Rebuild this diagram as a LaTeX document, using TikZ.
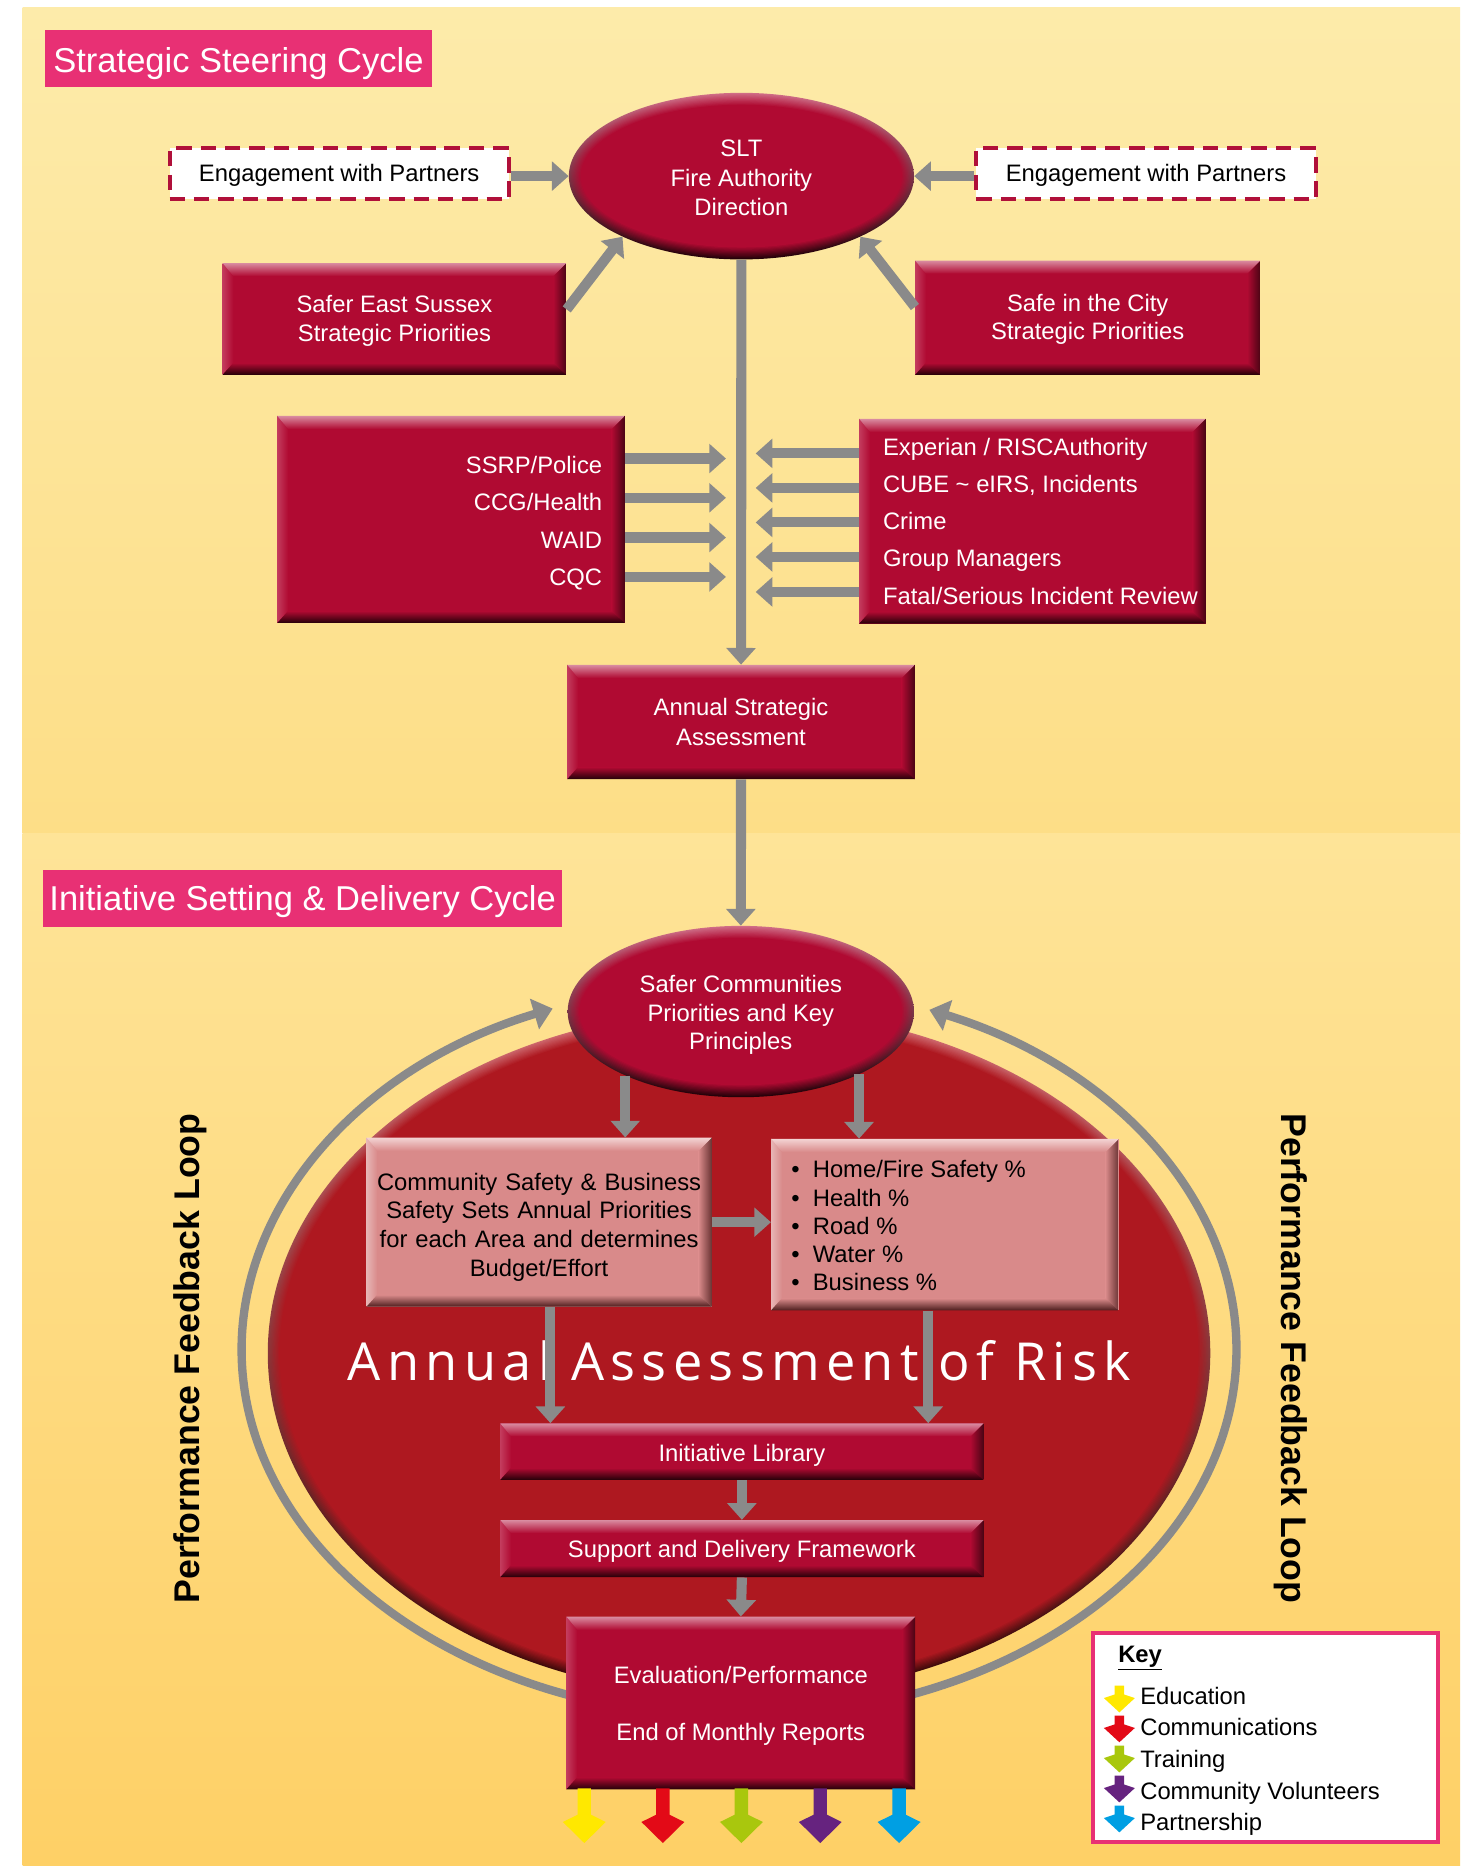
\documentclass[tikz,border=0pt]{standalone}
\usepackage{fontspec}
\setmainfont{Liberation Sans}
\newfontfamily\riskfont[LetterSpace=12]{Open Sans}
\usetikzlibrary{arrows.meta,shapes.geometric,calc}

% palette
\definecolor{bgA}{HTML}{FDEBAA}
\definecolor{bgB}{HTML}{FDDE87}
\definecolor{bgC}{HTML}{FEE498}
\definecolor{bgD}{HTML}{FED066}
\definecolor{crimson}{HTML}{B00A32}
\definecolor{crimsonhi}{HTML}{D98BA0}
\definecolor{crimsonside}{HTML}{C33B5D}
\definecolor{crimsonsh}{HTML}{4A0414}
\definecolor{crimsondeep}{HTML}{240008}
\definecolor{crimsonrim}{HTML}{D06C86}
\definecolor{rose}{HTML}{D98A8A}
\definecolor{rosehi}{HTML}{F3D3D3}
\definecolor{roseside}{HTML}{E7B5B5}
\definecolor{rosesh}{HTML}{6A3434}
\definecolor{rosedeep}{HTML}{4E1E1E}
\definecolor{riskred}{HTML}{AE1820}
\definecolor{riskrim}{HTML}{D46A70}
\definecolor{riskdeep}{HTML}{3A0606}
\definecolor{flowgray}{HTML}{8A8A8A}
\definecolor{titlepink}{HTML}{E83074}
\definecolor{engred}{HTML}{B0103A}
\definecolor{keyyellow}{HTML}{FFE800}
\definecolor{keyred}{HTML}{E30A17}
\definecolor{keygreen}{HTML}{A9C70D}
\definecolor{keypurple}{HTML}{66237F}
\definecolor{keyblue}{HTML}{009FE3}

% ellipse with a soft light rim on top and a dark rim below
\newcommand\rimellipse[6]{%
  \foreach \k in {0,...,10}{%
    \pgfmathtruncatemacro\rimmix{100-10*\k}%
    \shade[top color=#5!\rimmix!#4, bottom color=#6!\rimmix!#4]
      (#1) ellipse [x radius=#2-\k, y radius=#3-\k];
  }}

% kite-headed downward arrows (tip given)
\newcommand\bigkite[2]{\fill[#2] (#1) -- ++(18,-17.7) -- ++(-12.4,-6.1) -- ++(0,-22.2)
  -- ++(-11.2,0) -- ++(0,22.2) -- ++(-12.4,6.1) -- cycle;}
\newcommand\smallkite[2]{\fill[#2] (#1) -- ++(13,-12) -- ++(-9,-3) -- ++(0,-7.4)
  -- ++(-8,0) -- ++(0,7.4) -- ++(-9,3) -- cycle;}

\tikzset{
  every node/.append style={font=\fontsize{20}{24}\selectfont, inner sep=0pt},
  textdrop/.style={execute at begin node={\rule{0pt}{#1pt}}},
  bevel/.style n args={5}{fill=#1, path picture={
    \coordinate (bnw) at (path picture bounding box.north west);
    \coordinate (bse) at (path picture bounding box.south east);
    \coordinate (bne) at (path picture bounding box.north east);
    \coordinate (bsw) at (path picture bounding box.south west);
    \shade[left color=#3, right color=#1] (bnw) -- (bsw) -- ($(bsw)+(9,-10)$) -- ($(bnw)+(9,11)$) -- cycle;
    \shade[left color=#1, right color=#4] (bne) -- (bse) -- ($(bse)+(-11,-10)$) -- ($(bne)+(-11,11)$) -- cycle;
    \shade[top color=#2, bottom color=#1] (bnw) -- (bne) -- ($(bne)+(-11,11)$) -- ($(bnw)+(9,11)$) -- cycle;
    \shade[top color=#1, bottom color=#5] (bsw) -- (bse) -- ($(bse)+(-11,-10)$) -- ($(bsw)+(9,-10)$) -- cycle;
  }},
  crimsonbox/.style={rectangle, bevel={crimson}{crimsonhi}{crimsonside}{crimsonsh}{crimsondeep}, text=white, align=center},
  rosebox/.style={rectangle, bevel={rose}{rosehi}{roseside}{rosesh}{rosedeep}, text=black, align=center},
  whitetext/.style={text=white, align=center},
  titlebox/.style={rectangle, fill=titlepink, text=white, font=\fontsize{29}{34}\selectfont},
  engbox/.style={rectangle, draw=engred, line width=3.4pt, dash pattern=on 13pt off 7.5pt, fill=white,
    minimum width=285, minimum height=43, text=black},
  garrow/.style={draw=flowgray, line width=8.5pt, -{Triangle[width=24pt,length=14pt]}},
  loopring/.style={draw=flowgray, line width=7pt, -{Triangle[width=26pt,length=16pt]}},
  bulletlist/.style={anchor=west, font=\fontsize{20}{23.75}\selectfont},
}

\begin{document}
\begin{tikzpicture}[x=1pt,y=-1pt]
\useasboundingbox (0,0) rectangle (1234,1568);
\fill[white] (0,0) rectangle (1234,1568);
\shade[top color=bgA, bottom color=bgB] (19,6) rectangle (1227,700);
\shade[top color=bgC, bottom color=bgD] (19,700) rectangle (1227,1568);

% section titles
\node[titlebox, textdrop=29, minimum width=325, minimum height=48] (t1) at (200.4,49.3) {Strategic Steering Cycle};
\node[titlebox, textdrop=26, minimum width=435.5, minimum height=48] (t2) at (254.3,755) {Initiative Setting \& Delivery Cycle};

% strategic steering cycle
\node[engbox, textdrop=16.5] (engL) at (285,146) {Engagement with Partners};
\node[engbox, textdrop=16.5] (engR) at (963,146) {Engagement with Partners};
\node[crimsonbox, minimum width=289, minimum height=94] (ses) at (331.5,268) {};
\node[whitetext] (sestext) at ([yshift=-1.5]ses.center) {Safer East Sussex\\Strategic Priorities};
\node[crimsonbox, minimum width=290, minimum height=96] (sic) at (914,267) {};
\node[whitetext] (sictext) at ([yshift=-1.5]sic.center) {Safe in the City\\Strategic Priorities};
\node[crimsonbox, minimum width=292, minimum height=174] (lb) at (379,436.5) {};
\node[text=white, anchor=east, align=right, font=\fontsize{20}{31.3}\selectfont] (lbtext) at ([xshift=-19, yshift=-3]lb.east)
  {SSRP/Police\\CCG/Health\\WAID\\CQC};
\node[crimsonbox, minimum width=291, minimum height=172] (rb) at (867.5,438) {};
\node[text=white, anchor=west, align=left, font=\fontsize{20}{31.2}\selectfont] (rbtext) at ([xshift=20]rb.west)
  {Experian / RISCAuthority\\CUBE \textasciitilde{} eIRS, Incidents\\Crime\\Group Managers\\Fatal/Serious Incident Review};
\node[crimsonbox, minimum width=292, minimum height=96, font=\fontsize{20}{25}\selectfont] (asa) at (622.7,606.7) {Annual Strategic\\Assessment};

\coordinate (sltc) at (623,148);
\rimellipse{sltc}{145}{70}{crimson}{crimsonrim}{crimsondeep}
\node[ellipse, minimum width=290, minimum height=140] (slt) at (sltc) {};
\node[whitetext, font=\fontsize{20}{24.5}\selectfont] (slttext) at ([yshift=-1.5]slt.center) {SLT\\Fire Authority\\Direction};

\draw[garrow] (engL.east |- slt.west) -- (slt.west);
\draw[garrow] (engR.west |- slt.east) -- (slt.east);
\draw[garrow] ([yshift=8]ses.east) -- (slt.207);
\draw[garrow] ([yshift=9]sic.west) -- (slt.333);
\draw[garrow] (slt.south) -- (asa.north);
\foreach \n/\y in {1/385.3, 2/418.3, 3/451.7, 4/484.8}{
  \coordinate (inL\n) at (610,\y);
  \draw[garrow] (lb.east |- inL\n) -- (inL\n);
}
\foreach \n/\y in {1/381, 2/410, 3/439, 4/468, 5/497.4}{
  \coordinate (inR\n) at (635,\y);
  \draw[garrow] (rb.west |- inR\n) -- (inR\n);
}

% performance feedback loop
\coordinate (ringc) at (621,1134);
\draw[loopring] ([shift={(0,309)}]ringc) arc[start angle=90, end angle=248, x radius=418, y radius=309];
\draw[loopring] ([shift={(0,309)}]ringc) arc[start angle=90, end angle=-67.5, x radius=418, y radius=309];

% annual assessment of risk
\coordinate (riskc) at (621,1137);
\rimellipse{riskc}{396}{289}{riskred}{riskrim}{riskdeep}
\node[text=white, anchor=base, font=\riskfont\fontsize{44}{50}\selectfont] (risktxt) at (621.5,1160) {Annual Assessment of Risk};

\coordinate (scc) at (622.5,850);
\rimellipse{scc}{145.5}{72}{crimson}{crimsonrim}{crimsondeep}
\node[ellipse, minimum width=291, minimum height=144] (sc) at (scc) {};
\node[whitetext] (sctext) at ([yshift=-3]sc.center) {Safer Communities\\Priorities and Key\\Principles};
\draw[garrow] (asa.south) -- (sc.north);

\node[rosebox, textdrop=22.6, minimum width=290, minimum height=142, text width=290] (cs) at (453,1027)
  {Community Safety \& Business\\Safety Sets Annual Priorities\\for each Area and determines\\Budget/Effort};
\node[rosebox, minimum width=292, minimum height=144] (bl) at (794,1029) {};
\node[bulletlist] (bltext) at ([xshift=17, yshift=-3.5]bl.west) {%
  \begin{tabular}{@{}l@{\hspace{11pt}}l@{}}
  •&Home/Fire Safety \%\\
  •&Health \%\\
  •&Road \%\\
  •&Water \%\\
  •&Business \%
  \end{tabular}};

\node[crimsonbox, textdrop=20.6, minimum width=406, minimum height=47.5] (lib) at (623.4,1219.8) {Initiative Library};
\node[crimsonbox, textdrop=18.6, minimum width=406, minimum height=48] (sdf) at (623.4,1301.3) {Support and Delivery Framework};
\node[crimsonbox, minimum width=293, minimum height=145] (eval) at (622.5,1431) {};
\node[whitetext] (evaltext) at ([yshift=-2.5]eval.center) {Evaluation/Performance\\[24.5pt]End of Monthly Reports};

\draw[garrow] (sc.209) -- (sc.209 |- cs.north);
\draw[garrow] (sc.332) -- (sc.332 |- bl.north);
\draw[garrow] (cs.east) -- (cs.east -| bl.west);
\draw[garrow] ([xshift=9.5]cs.south) -- ([xshift=9.5]cs.south |- lib.north);
\draw[garrow] ([xshift=-14]bl.south) -- ([xshift=-14]bl.south |- lib.north);
\draw[garrow] (lib.south) -- (sdf.north);
\draw[garrow] (sdf.south) -- (eval.north);

% delivery channels
\foreach \dx/\c in {-131.5/keyyellow, -65.5/keyred, 0.5/keygreen, 66.8/keypurple, 133/keyblue}{
  \coordinate (chtip) at ([xshift=\dx, yshift=-45]eval.south);
  \bigkite{chtip}{\c}
}

% side labels
\node[rotate=90, font=\bfseries\fontsize{30}{36}\selectfont] (perfL) at (160,1141.5) {Performance Feedback Loop};
\node[rotate=-90, font=\bfseries\fontsize{30}{36}\selectfont] (perfR) at (1085,1141.5) {Performance Feedback Loop};

% key
\node[draw=titlepink, line width=3.4pt, fill=white, minimum width=290, minimum height=176] (key) at (1063.5,1460) {};
\node[anchor=base west, font=\bfseries\fontsize{20}{24}\selectfont] (keyhead) at (939.5,1396.8) {\underline{Key}};
\foreach \n/\c/\ty/\by/\t in {1/keyyellow/1438.9/1432/Education, 2/keyred/1464/1458.5/Communications,
    3/keygreen/1489.3/1485/Training, 4/keypurple/1514.5/1511.7/Community Volunteers, 5/keyblue/1539.7/1538.3/Partnership}{
  \coordinate (ktip\n) at (940.6,\ty);
  \smallkite{ktip\n}{\c}
  \node[anchor=base west] (kl\n) at (958,\by) {\t};
}
\end{tikzpicture}
\end{document}
